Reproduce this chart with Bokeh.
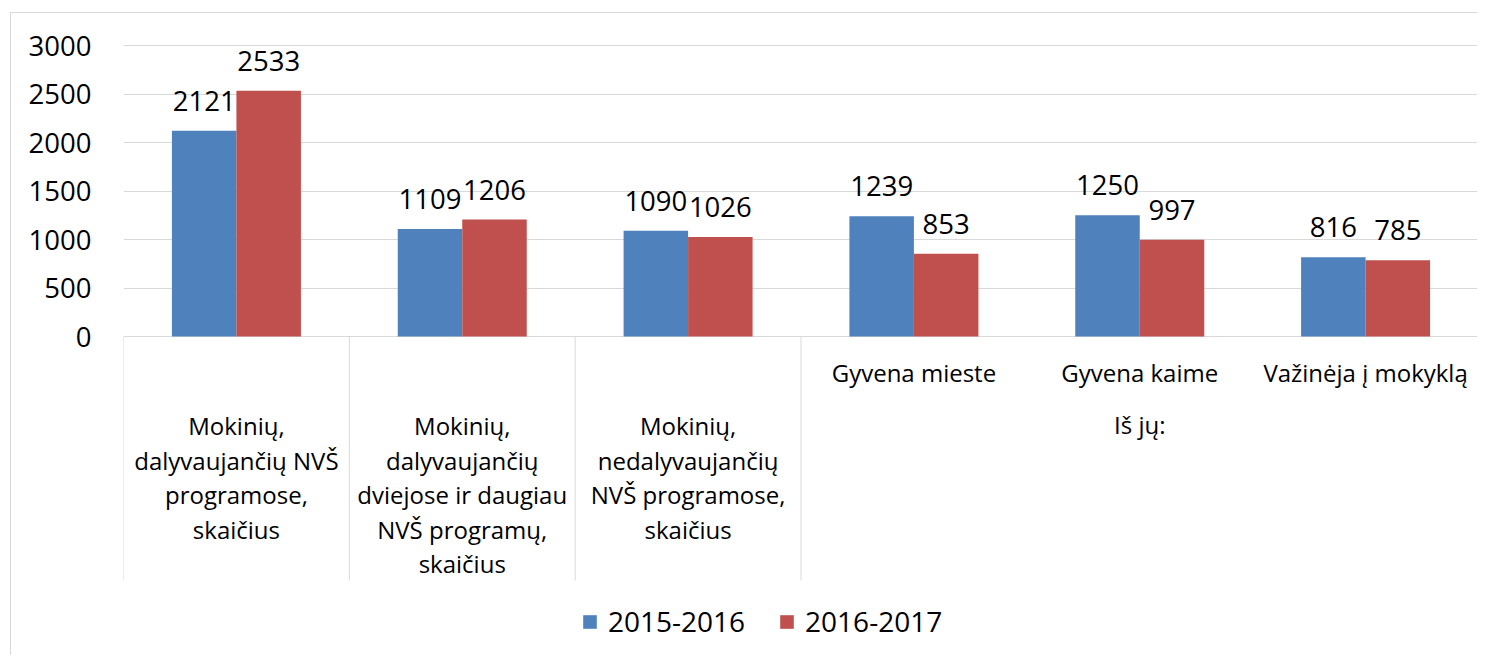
from bokeh.plotting import figure
from bokeh.models import (ColumnDataSource, FactorRange, Range1d, FixedTicker,
                          Legend, LegendItem)
from bokeh.transform import dodge
from bokeh.core.properties import value
from bokeh.embed import file_html
from bokeh.resources import INLINE

# ---------------- data ----------------
categories = [
    "Mokinių,\ndalyvaujančių NVŠ\nprogramose,\nskaičius",
    "Mokinių,\ndalyvaujančių\ndviejose ir daugiau\nNVŠ programų,\nskaičius",
    "Mokinių,\nnedalyvaujančių\nNVŠ programose,\nskaičius",
    "Gyvena mieste",
    "Gyvena kaime",
    "Važinėja į mokyklą",
]
series_names = ["2015-2016", "2016-2017"]
values_2015 = [2121, 1109, 1090, 1239, 1250, 816]
values_2016 = [2533, 1206, 1026, 853, 997, 785]
y_ticks = [0, 500, 1000, 1500, 2000, 2500, 3000]
group_label = "Iš jų:"
group_members = categories[3:]

# ---------------- style ----------------
FONT = "Open Sans"
BLUE = "#4f81bd"
RED = "#c0504d"
GRID = "#d9d9d9"
TXT = "#000000"
PX_PER_UNIT = 0.097          # screen px per data unit

def ref_to_data(dy_px):      # px below the zero line -> data units
    return -dy_px / PX_PER_UNIT

p = figure(
    width=1467, height=643,
    x_range=FactorRange(factors=categories, range_padding=0),
    y_range=Range1d(start=ref_to_data(320), end=3000 + 16 / PX_PER_UNIT),
    x_axis_location=None,
    output_backend="svg", toolbar_location=None,
    min_border_left=112, min_border_right=0,
    min_border_top=16, min_border_bottom=0,
    styles={"border-top": "1px solid #d9d9d9", "border-left": "1px solid #d9d9d9",
            "margin-left": "10px", "margin-top": "12px"},
)
p.title.visible = False
p.outline_line_color = None
p.background_fill_color = "white"
p.border_fill_color = "white"

# grid
p.xgrid.visible = False
p.ygrid.ticker = FixedTicker(ticks=y_ticks)
p.ygrid.grid_line_color = GRID
p.ygrid.grid_line_width = 1

# y axis
p.yaxis.ticker = FixedTicker(ticks=y_ticks)
p.yaxis.axis_line_color = None
p.yaxis.major_tick_line_color = None
p.yaxis.minor_tick_line_color = None
p.yaxis.major_tick_out = 0
p.yaxis.major_tick_in = 0
p.yaxis.major_label_standoff = 32
p.yaxis.major_label_text_font = FONT
p.yaxis.major_label_text_font_size = "27.5px"
p.yaxis.major_label_text_color = TXT

# bars
src = ColumnDataSource(dict(cat=categories, v1=values_2015, v2=values_2016,
                            t1=[str(v) for v in values_2015],
                            t2=[str(v) for v in values_2016]))
bw = 0.2856
r1 = p.vbar(x=dodge("cat", -bw / 2, range=p.x_range), top="v1", width=bw,
            source=src, fill_color=BLUE, line_color=None)
r2 = p.vbar(x=dodge("cat", bw / 2, range=p.x_range), top="v2", width=bw,
            source=src, fill_color=RED, line_color=None)

# data labels
for xo, col in ((-bw / 2, ("v1", "t1")), (bw / 2, ("v2", "t2"))):
    p.text(x=dodge("cat", xo, range=p.x_range), y=col[0], text=col[1], source=src,
           text_font=value(FONT), text_font_size="27.5px", text_color=TXT,
           text_align="center", text_baseline="middle", y_offset=-30)

# category separators (multi-level axis cells)
sep_bottom = ref_to_data(244)
left_edges = [c for c in categories if c not in group_members] + [group_members[0]]
sep_src_l = ColumnDataSource(dict(cat=left_edges))
sep_src_r = ColumnDataSource(dict(cat=[categories[-1]]))
for s, off in ((sep_src_l, -0.5), (sep_src_r, 0.5)):
    p.segment(x0=dodge("cat", off, range=p.x_range), y0=0,
              x1=dodge("cat", off, range=p.x_range), y1=sep_bottom,
              source=s, line_color=GRID, line_width=1)

# category labels
lx, ly, lt = [], [], []
row1 = ref_to_data(36)     # inner level row
row2 = ref_to_data(89)     # outer level first line
line_step = 34.5 / PX_PER_UNIT
for c in categories:
    if c in group_members:
        lx.append(c); ly.append(row1); lt.append(c)
    else:
        for i, line in enumerate(c.split("\n")):
            lx.append(c); ly.append(row2 - i * line_step); lt.append(line)
mid = group_members[len(group_members) // 2]
lx.append(mid); ly.append(ref_to_data(88)); lt.append(group_label)
p.text(x=lx, y=ly, text=lt, text_font=value(FONT), text_font_size="24px",
       text_color=TXT, text_align="center", text_baseline="middle")

# legend
legend = Legend(
    items=[LegendItem(label=series_names[0], renderers=[r1]),
           LegendItem(label=series_names[1], renderers=[r2])],
    orientation="horizontal", location=(458, 16),
    glyph_width=17, glyph_height=17, label_standoff=10, spacing=33,
    padding=0, margin=0, border_line_color=None, background_fill_alpha=0,
    label_text_font=FONT, label_text_font_size="28px", label_text_color=TXT,
)
p.add_layout(legend, "center")

open("out.html", "w").write(file_html(p, INLINE))
